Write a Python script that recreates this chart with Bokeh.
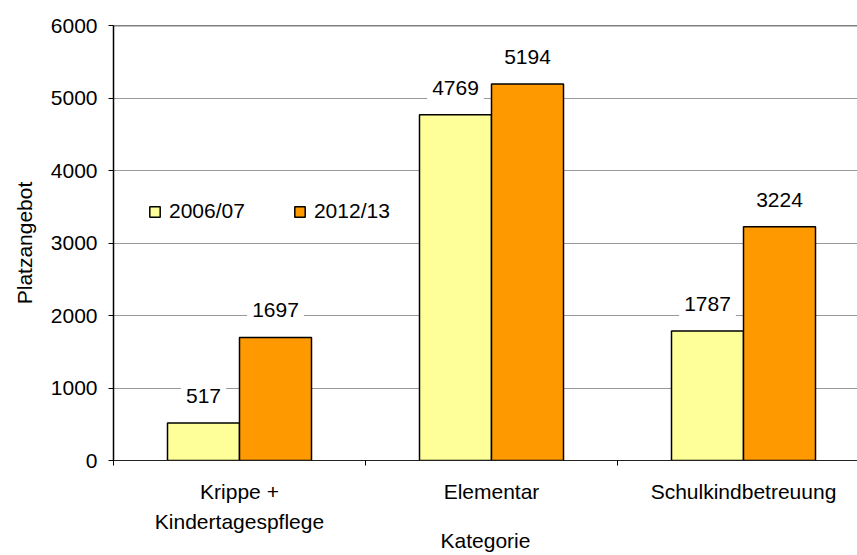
import numpy as np
from bokeh.plotting import figure
from bokeh.models import (ColumnDataSource, Range1d, FixedTicker, Label, Span, Legend)
from bokeh.transform import dodge
from bokeh.embed import file_html
from bokeh.resources import INLINE

# ---- data ----
categories = ["Krippe +\nKindertagespflege", "Elementar", "Schulkindbetreuung"]
series_names = ["2006/07", "2012/13"]
values_2006 = [517, 4769, 1787]
values_2012 = [1697, 5194, 3224]
y_ticks = [0, 1000, 2000, 3000, 4000, 5000, 6000]
x_title = "Kategorie"
y_title = "Platzangebot"

colors = ["#FFFF99", "#FF9900"]
FONT = "Liberation Sans"
FS = "21px"

centers = np.arange(len(categories)) + 0.5
src = ColumnDataSource(dict(x=centers, v1=values_2006, v2=values_2012))

bar_w = 2 / 7
off = bar_w / 2

p = figure(width=857, height=555, output_backend="svg", toolbar_location=None,
           x_range=Range1d(0, 744 / 252), y_range=Range1d(y_ticks[0], y_ticks[-1]),
           min_border_left=113, min_border_right=0, min_border_top=25,
           min_border_bottom=94)
p.outline_line_color = None
p.background_fill_color = "white"

r1 = p.vbar(x=dodge("x", -off), top="v1", width=bar_w, source=src,
            fill_color=colors[0], line_color="black", line_width=1.5)
r2 = p.vbar(x=dodge("x", off), top="v2", width=bar_w, source=src,
            fill_color=colors[1], line_color="black", line_width=1.5)

# data labels
for vals, sign in ((values_2006, -1), (values_2012, 1)):
    for c, v in zip(centers, vals):
        p.add_layout(Label(x=c + sign * off, y=v, text=str(v), y_offset=27,
                           text_align="center", text_baseline="middle",
                           text_font=FONT, text_font_size=FS, text_color="black",
                           background_fill_color="white", padding=5))

# top border line at max
p.add_layout(Span(location=y_ticks[-1], dimension="width", line_color="black",
                  line_width=1.5))

# grid
p.xgrid.grid_line_color = None
p.ygrid.ticker = FixedTicker(ticks=y_ticks)
p.ygrid.grid_line_color = "#999999"
p.ygrid.grid_line_width = 1

# y axis
p.yaxis.ticker = FixedTicker(ticks=y_ticks)
p.yaxis.axis_label = y_title
p.yaxis.axis_label_text_font = FONT
p.yaxis.axis_label_text_font_size = FS
p.yaxis.axis_label_text_font_style = "normal"
p.yaxis.axis_label_text_color = "black"
p.yaxis.axis_label_standoff = 12
p.yaxis.major_label_text_font = FONT
p.yaxis.major_label_text_font_size = FS
p.yaxis.major_label_text_color = "black"
p.yaxis.major_label_standoff = 11
p.yaxis.major_tick_out = 5
p.yaxis.major_tick_in = 0
p.yaxis.minor_tick_line_color = None
p.yaxis.axis_line_color = "black"
p.yaxis.axis_line_width = 1.5
p.yaxis.major_tick_line_color = "black"

# x axis
p.xaxis.ticker = FixedTicker(ticks=list(centers),
                             minor_ticks=list(np.arange(len(categories) + 1)))
p.xaxis.major_label_overrides = {float(c): lab for c, lab in zip(centers, categories)}
p.xaxis.major_label_text_font = FONT
p.xaxis.major_label_text_font_size = FS
p.xaxis.major_label_text_color = "black"
p.xaxis.major_label_text_line_height = 1.34
p.xaxis.major_label_standoff = 14
p.xaxis.major_tick_line_color = None
p.xaxis.major_tick_out = 0
p.xaxis.major_tick_in = 0
p.xaxis.minor_tick_out = 5
p.xaxis.minor_tick_in = 0
p.xaxis.minor_tick_line_color = "black"
p.xaxis.axis_line_color = "#222222"
p.xaxis.axis_line_width = 1.2
p.xaxis.axis_label = x_title
p.xaxis.axis_label_text_font = FONT
p.xaxis.axis_label_text_font_size = FS
p.xaxis.axis_label_text_font_style = "normal"
p.xaxis.axis_label_text_color = "black"
p.xaxis.axis_label_standoff = -7

# legend
legend = Legend(items=[(series_names[0], [r1]), (series_names[1], [r2])],
                orientation="horizontal", location=(35, 237),
                glyph_width=13, glyph_height=13, label_standoff=8, spacing=48,
                padding=0, margin=0, border_line_color=None,
                background_fill_alpha=0,
                label_text_font=FONT, label_text_font_size=FS,
                label_text_color="black")
p.add_layout(legend)

open("out.html", "w").write(file_html(p, INLINE))
